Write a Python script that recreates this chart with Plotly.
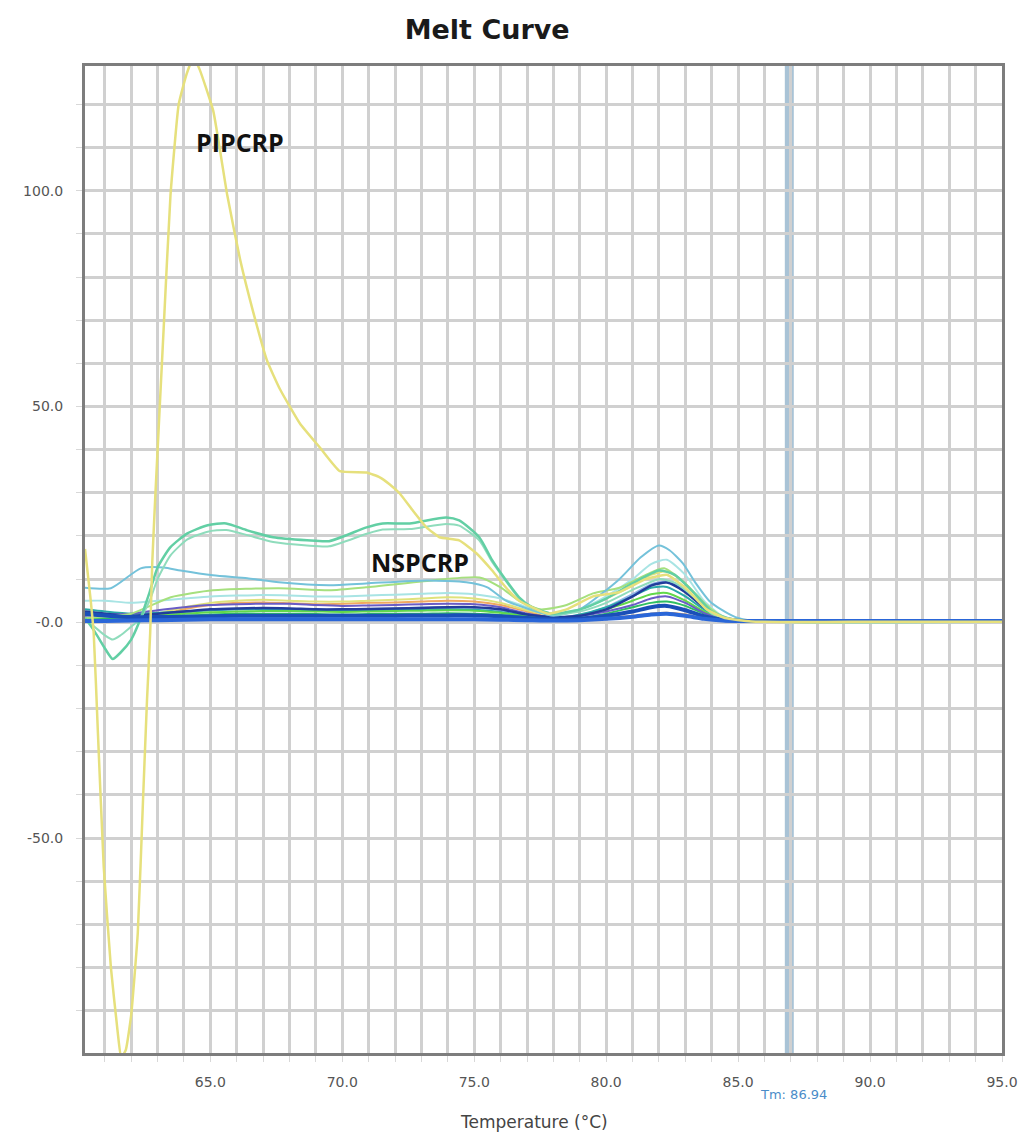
import plotly.graph_objects as go

# ---------------- data ----------------
TITLE = "Melt Curve"
X_TITLE = "Temperature (°C)"
TM_VALUE = 86.94
TM_LABEL = "Tm: 86.94"

X_TICKS = [65, 70, 75, 80, 85, 90, 95]
Y_TICKS = [100, 50, 0, -50]
Y_TICK_TEXT = ["100.0", "50.0", "-0.0", "-50.0"]

# PIPCRP (yellow) curve
T_PIPCRP = [60.25, 60.45, 60.58, 60.74, 60.96, 61.23, 61.49, 61.62, 61.8, 62.0, 62.25, 62.45,
            62.6, 62.72, 62.8, 62.92, 63.23, 63.49, 63.8, 64.1, 64.36, 64.6, 65.11, 65.64,
            66.13, 66.62, 67.15, 67.64, 68.4, 69.15, 69.91, 70.92, 71.42, 71.79, 72.17, 72.66,
            73.19, 73.68, 74.43, 75.08, 75.68, 76.21, 76.7, 77.19, 77.8, 78.5, 79.5, 80.5,
            81.5, 82.3, 83.0, 83.8, 84.5, 85.5, 90.0, 95.0]
Y_PIPCRP = [17, 6, -2.5, -25.7, -56.7, -79.9, -95, -101, -99, -91, -72, -41,
            -18, -2.5, 14, 30, 68, 99, 120, 127, 131, 128, 118.5, 99,
            84, 72, 60.6, 54, 46, 40.5, 35, 34.7, 33.6, 32, 29.9, 26,
            22, 19.7, 19, 16, 12, 8, 5, 3.5, 2, 3, 6, 7,
            10, 11, 8, 3, 1, 0.2, 0.1, 0.1]

# NSPCRP upper mint curve (with early dip)
T_MINT = [60.25, 60.6, 61.0, 61.3, 61.6, 62.0, 62.3, 62.7, 63.0, 63.49, 64.13, 64.9,
          65.6, 66.4, 67.38, 68.66, 69.5, 70.92, 71.53, 72.55, 73.94, 74.43, 75.19, 75.68,
          76.21, 76.7, 77.19, 77.94, 79.0, 80.0, 81.0, 82.0, 82.6, 83.3, 84.0, 84.8, 86.0, 95.0]
Y_MINT = [1, -2, -6, -8.5, -7, -4, 0, 7, 12.7, 17.4, 20.6, 22.5,
          22.9, 21.3, 19.7, 19, 18.8, 22, 22.9, 22.9, 24.3, 23.6, 19.7, 14.4,
          9.7, 5.8, 3.5, 2, 3, 5.5, 9, 12, 11, 7, 2.5, 0.6, 0.2, 0.1]
Y_MINT2 = [0.5, -1, -3, -4, -3, -1, 0.5, 5, 10, 15.5, 19.2, 21,
           21.4, 20.2, 18.6, 17.8, 17.6, 20.5, 21.5, 21.6, 22.8, 22.4, 19, 14,
           9.5, 5.5, 3.2, 1.8, 2.5, 4.5, 7.5, 10, 9.2, 6, 2, 0.5, 0.2, 0.1]

# cyan-blue curve (~10)
T_CYAN = [60.25, 61.23, 62.36, 63.23, 63.87, 65.1, 66.4, 67.6, 69.5, 70.9, 73.2, 74.7,
          75.5, 76.2, 77.2, 78.0, 79.0, 80.5, 81.3, 82.0, 82.4, 82.9, 83.4, 83.9,
          84.4, 84.9, 85.4, 90.0, 95.0]
Y_CYAN = [8, 7.9, 12.5, 12.7, 12, 10.9, 10.2, 9.3, 8.6, 9, 9.7, 9.3,
          8.1, 5, 2.8, 1.5, 3, 10, 15, 17.8, 16.7, 13.7, 9, 5,
          2.8, 1.2, 0.5, 0.2, 0.2]

# lime curve (~7)
T_LIME = [60.25, 62.0, 63.5, 65.1, 67.6, 69.5, 70.9, 73.4, 75.2, 76.0, 76.7, 77.5,
          78.5, 79.5, 80.5, 81.5, 82.2, 83.0, 83.8, 84.5, 86.0, 95.0]
Y_LIME = [1, 2, 5.8, 7.4, 7.9, 7.4, 8.1, 9.7, 10.4, 8.1, 5, 3,
          4, 6.7, 8, 11, 12.5, 9, 4, 1, 0.2, 0.1]

# low band curves on a shared temperature grid
T_GRID = [60.25, 61, 62, 63, 64, 65, 66, 67, 68, 69, 70, 71, 72, 73, 74, 75, 76, 77, 78,
          79, 80, 81, 81.7, 82.3, 83, 83.7, 84.4, 85.2, 86, 90, 95]
Y_NAVY = [2.5, 2, 1.5, 2, 2.5, 3, 3.2, 3.3, 3.2, 3, 3, 3.1, 3.2, 3.3, 3.5, 3.5, 3, 1.8, 1.2,
          1.5, 3, 6, 8.5, 9.2, 7, 3.5, 1.2, 0.4, 0.2, 0.1, 0.1]
Y_PURPLE = [1.5, 1.8, 2, 2.8, 3.5, 4, 4.2, 4.3, 4.3, 4, 3.8, 3.9, 4, 4.2, 4.3, 4.2, 3.5, 2, 1.2,
            1.5, 2.5, 4, 5.5, 6, 4.5, 2.2, 0.8, 0.3, 0.1, 0.1, 0.1]
Y_ORANGE = [0.5, 0.3, 0.5, 1.5, 3, 4, 4.5, 4.6, 4.4, 4.2, 4.3, 4.5, 4.6, 4.8, 5, 4.8, 4, 2.5, 1,
            0.8, 1, 1.5, 2, 2.2, 1.8, 1, 0.4, 0.2, 0.1, 0.1, 0.1]
Y_GREEN = [1, 0.8, 0.6, 1, 1.5, 1.8, 2, 2, 2, 1.9, 1.8, 1.9, 2, 2, 2.1, 2, 1.7, 1.2, 0.8,
           1, 2, 3.5, 4.5, 4.8, 3.8, 2, 0.7, 0.2, 0.1, 0.1, 0.1]
Y_BRIGHTGREEN = [2, 1.5, 1.2, 1.6, 2, 2.3, 2.5, 2.6, 2.6, 2.5, 2.4, 2.5, 2.6, 2.7, 2.8, 2.7, 2.2, 1.4, 1,
                 1.5, 3, 5, 6.5, 6.8, 5, 2.5, 0.8, 0.3, 0.1, 0.1, 0.1]
Y_TEAL = [3, 2.5, 2, 2.2, 2.5, 2.8, 3, 3, 2.9, 2.8, 2.7, 2.8, 2.9, 3, 3, 2.9, 2.4, 1.5, 1,
          1.8, 3.5, 6, 8, 8.2, 6, 3, 1, 0.3, 0.1, 0.1, 0.1]
Y_LIGHTBLUE = [1.2, 1, 1, 1.5, 2.2, 2.8, 3, 3.2, 3.1, 3, 3, 3.1, 3.2, 3.4, 3.5, 3.4, 2.8, 1.6, 1,
               1.6, 3.5, 6.5, 8.8, 9.5, 7.5, 3.5, 1, 0.3, 0.1, 0.1, 0.1]
Y_PALEYELLOW = [0.8, 0.6, 0.8, 2, 3.5, 4.5, 5, 5.2, 5, 4.8, 4.8, 5, 5.2, 5.5, 5.8, 5.5, 4.5, 2.8, 1.8,
                3, 5.5, 8.5, 11, 11.8, 9, 4, 1.2, 0.3, 0.1, 0.1, 0.1]
Y_LIGHTCYAN = [5, 5, 4.5, 5, 5.5, 6, 6.2, 6.3, 6.2, 6, 6, 6.2, 6.4, 6.6, 6.8, 6.5, 5.5, 3.5, 2,
               3, 6, 10, 13.5, 14.5, 11, 5, 1.5, 0.4, 0.1, 0.1, 0.1]
Y_DARKBLUE = [2, 1.6, 1.2, 1.2, 1.3, 1.4, 1.5, 1.5, 1.5, 1.5, 1.5, 1.5, 1.5, 1.6, 1.6, 1.6, 1.4, 1, 0.7,
              0.8, 1.5, 2.5, 3.5, 3.8, 2.8, 1.4, 0.6, 0.3, 0.3, 0.3, 0.3]
Y_BASELINE = [0.3, 0.3, 0.4, 0.5, 0.6, 0.7, 0.7, 0.7, 0.7, 0.7, 0.7, 0.7, 0.7, 0.7, 0.7, 0.7, 0.6, 0.5, 0.4,
              0.5, 0.8, 1.3, 1.8, 2, 1.5, 0.8, 0.4, 0.3, 0.3, 0.3, 0.3]

# ---------------- figure ----------------
W, H = 1030, 1142
ML, MR, MT, MB = 85, 23, 66, 89
PW, PH = W - ML - MR, H - MT - MB


def px_x(px):
    return (px - ML) / PW


def px_y(py):
    return (H - MB - py) / PH


fig = go.Figure()


def add(x, y, color, width=2.0, smooth=0.6):
    fig.add_trace(go.Scatter(x=x, y=y, mode="lines",
                             line=dict(color=color, width=width, shape="spline", smoothing=smooth),
                             hoverinfo="skip", showlegend=False))


add(T_GRID, Y_ORANGE, "#f0a860")
add(T_GRID, Y_PALEYELLOW, "#dfe27a")
add(T_GRID, Y_LIGHTCYAN, "#a8e4e4")
add(T_GRID, Y_LIGHTBLUE, "#8fb4e6")
add(T_GRID, Y_TEAL, "#2aa9a9")
add(T_GRID, Y_BRIGHTGREEN, "#62d84a")
add(T_GRID, Y_GREEN, "#2fbf62")
add(T_GRID, Y_PURPLE, "#6a5cc6")
add(T_GRID, Y_NAVY, "#213c9c", 2.5)
add(T_LIME, Y_LIME, "#a6e07e")
add(T_CYAN, Y_CYAN, "#74c2da")
add(T_MINT, Y_MINT2, "#8fdcbc")
add(T_MINT, Y_MINT, "#62cfa4", 2.5)
add(T_GRID, Y_DARKBLUE, "#1a4fb8", 4)
add(T_GRID, Y_BASELINE, "#2a66d8", 4)
add(T_PIPCRP, Y_PIPCRP, "#e6e07c", 2.5, 0.4)

fig.add_shape(type="line", xref="x", yref="paper", x0=TM_VALUE, x1=TM_VALUE, y0=0, y1=1,
              line=dict(color="rgba(160,188,210,0.9)", width=9), layer="between")

x_tickvals = list(range(61, 96))
x_ticktext = [f"{v:.1f}" if v in X_TICKS else "" for v in x_tickvals]
y_tickvals = list(range(-90, 130, 10))
y_ticktext = [Y_TICK_TEXT[Y_TICKS.index(v)] if v in Y_TICKS else "" for v in y_tickvals]

fig.update_layout(
    width=W, height=H,
    margin=dict(l=ML, r=MR, t=MT, b=MB),
    paper_bgcolor="white", plot_bgcolor="white",
    title=dict(text=f"<b>{TITLE}</b>", x=0.473, xref="container", xanchor="center",
               y=1 - 30 / H, yref="container", yanchor="middle",
               font=dict(family="DejaVu Sans", size=27, color="#1a1a1a")),
    xaxis=dict(range=[60.25, 95.0], tickmode="array", tickvals=x_tickvals, ticktext=x_ticktext,
               showgrid=True, gridcolor="#d0d0d0", gridwidth=2.5, zeroline=False,
               showline=True, mirror=True, linecolor="#7d7d7d", linewidth=3,
               ticks="outside", ticklen=6, tickcolor="#d8d8d8", ticklabelstandoff=8,
               tickfont=dict(family="DejaVu Sans", size=14, color="#555555")),
    yaxis=dict(range=[-99.8, 128.9], tickmode="array", tickvals=y_tickvals, ticktext=y_ticktext,
               showgrid=True, gridcolor="#d0d0d0", gridwidth=2.5, zeroline=False,
               showline=True, mirror=True, linecolor="#7d7d7d", linewidth=3,
               ticks="outside", ticklen=6, tickcolor="#d8d8d8", ticklabelstandoff=10,
               tickfont=dict(family="DejaVu Sans", size=14, color="#555555")),
    annotations=[
        dict(text="<b>PIPCRP</b>", x=66.13, y=111.3, xref="x", yref="y", showarrow=False,
             font=dict(family="Open Sans", size=25, color="#111111")),
        dict(text="<b>NSPCRP</b>", x=72.96, y=13.9, xref="x", yref="y", showarrow=False,
             font=dict(family="Open Sans", size=25, color="#111111")),
        dict(text=X_TITLE, x=px_x(536), y=px_y(1122), xref="paper", yref="paper",
             showarrow=False, xanchor="center", yanchor="middle",
             font=dict(family="DejaVu Sans", size=17, color="#444444")),
        dict(text=TM_LABEL, x=TM_VALUE, y=px_y(1094), xref="x", yref="paper",
             showarrow=False, xanchor="center", yanchor="middle", xshift=4,
             font=dict(family="DejaVu Sans", size=13, color="#4a8cc8")),
    ],
)

fig.write_html("out.html")
